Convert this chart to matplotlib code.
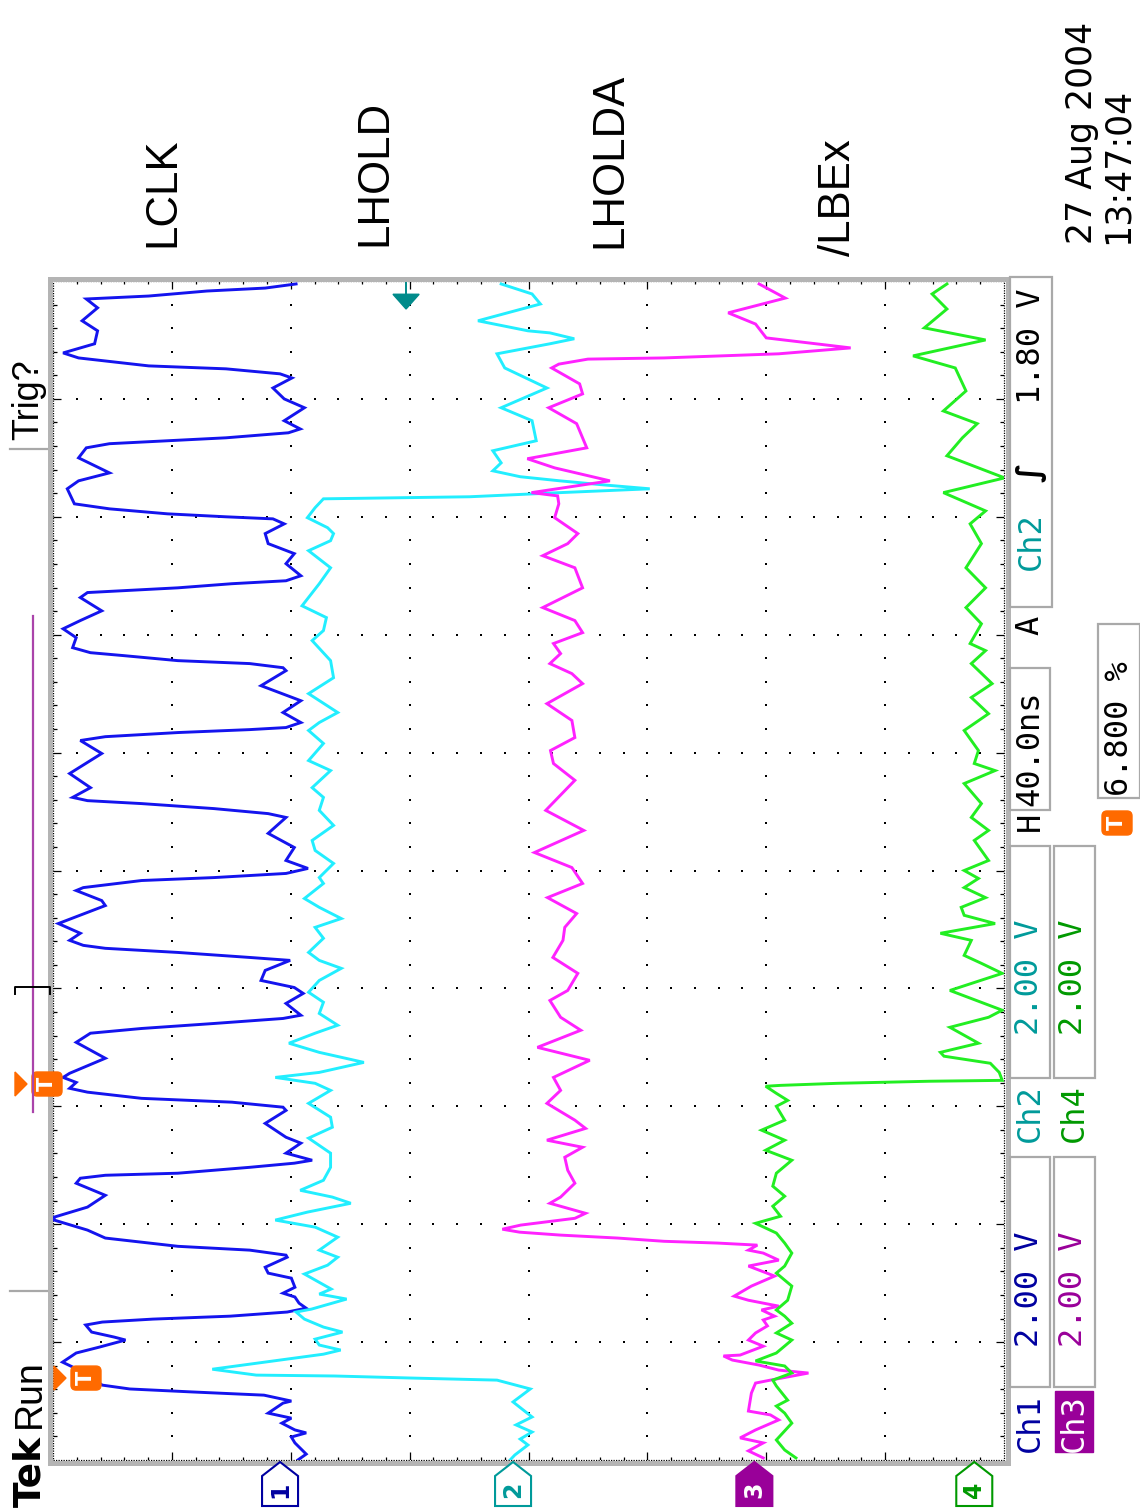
import numpy as np
import matplotlib
matplotlib.use("Agg")
import matplotlib.pyplot as plt
from matplotlib.patches import Rectangle, Polygon, FancyBboxPatch
from matplotlib.collections import LineCollection

# ---- scope settings ----
TIME_PER_DIV = 40.0          # ns
VOLTS_PER_DIV = 2.0
CH_NAMES = ["LCLK", "LHOLD", "LHOLDA", "/LBEx"]
CH_OFFSET = [2.09, 0.13, -1.90, -3.75]      # ground marker position, divisions
CH_COLORS = ["#1414ee", "#22eeff", "#ff22ff", "#22ee22"]
CH_DARK = ["#0000a0", "#009a9a", "#990099", "#009900"]
TRIG_LEVEL = 1.80            # V on Ch2
TRIG_TIME = 27.8             # ns from left edge
RECORD_POS = "6.800 %"

# ---- traces: (time ns, volts) ----
CH1 = [(0.0, -0.30), (2.0, -0.44), (5.8, -0.25), (7.8, -0.19), (9.2, -0.44), (10.2, -0.25),
       (12.5, -0.03), (14.2, -0.19), (15.9, 0.20), (19.3, -0.05), (20.0, -0.19), (22.0, 0.27),
       (23.1, 1.49), (24.1, 2.53), (25.4, 2.99), (30.5, 3.38), (33.2, 3.66), (36.3, 3.43),
       (38.3, 3.04), (40.7, 2.60), (41.7, 2.79), (43.4, 3.17), (45.8, 3.27), (46.8, 2.99),
       (47.8, 2.14), (48.8, 0.84), (50.2, -0.12), (51.5, -0.44), (53.2, -0.32), (55.3, -0.25),
       (56.6, -0.05), (58.6, -0.25), (61.7, -0.19), (63.4, 0.20), (65.4, 0.25), (68.8, -0.12),
       (69.5, -0.10), (71.2, 0.51), (72.5, 1.72), (75.3, 2.94), (78.0, 3.24), (81.4, 3.80),
       (82.4, 3.80), (85.8, 3.24), (89.8, 2.94), (93.9, 3.43), (95.6, 3.36), (96.6, 2.94),
       (97.3, 1.72), (99.3, 0.51), (100.7, -0.24), (101.7, -0.54), (104.1, -0.10), (107.5, -0.35),
       (109.5, -0.10), (114.2, 0.25), (118.6, -0.10), (119.7, -0.05), (121.4, 0.81), (122.7, 2.33),
       (124.8, 3.24), (126.1, 3.54), (128.1, 3.43), (129.8, 3.65), (131.2, 3.54), (136.3, 2.94),
       (141.7, 3.43), (144.8, 3.19), (146.4, 2.33), (148.1, 1.11), (149.8, -0.05), (150.9, -0.35),
       (154.9, -0.10), (158.3, -0.39), (160.3, -0.24), (162.7, 0.32), (166.1, 0.25), (169.5, -0.17),
       (170.5, 0.51), (172.2, 1.72), (173.6, 2.94), (174.6, 3.31), (176.3, 3.54), (178.7, 3.36),
       (182.0, 3.73), (188.1, 2.94), (189.8, 3.00), (193.2, 3.43), (194.2, 3.31), (196.6, 2.33),
       (197.6, 1.11), (199.0, -0.10), (200.7, -0.47), (203.4, -0.10), (207.8, -0.24), (212.6, 0.20),
       (218.0, -0.10), (219.3, 0.20), (221.0, 1.11), (222.7, 2.33), (223.7, 3.24), (224.8, 3.49),
       (228.1, 3.19), (232.9, 3.54), (239.7, 3.00), (244.1, 3.36), (245.4, 2.94), (246.8, 1.72),
       (247.8, 0.51), (248.5, -0.10), (250.2, -0.35), (253.6, -0.05), (257.6, -0.35), (262.7, 0.32),
       (267.8, -0.10), (268.8, -0.05), (270.2, 0.51), (271.2, 1.72), (272.9, 2.63), (273.9, 3.19),
       (275.6, 3.49), (279.0, 3.43), (282.0, 3.65), (284.8, 3.36), (288.1, 3.00), (292.6, 3.36),
       (294.3, 3.24), (295.9, 1.72), (297.3, 0.81), (298.3, -0.10), (300.0, -0.35), (304.1, -0.10),
       (307.5, -0.24), (310.9, 0.20), (314.3, 0.25), (317.6, -0.07), (319.3, 0.12), (320.0, 0.91),
       (321.0, 1.89), (322.7, 2.87), (324.4, 3.46), (329.5, 3.58), (332.2, 3.39), (334.9, 2.87),
       (340.0, 3.39), (343.4, 3.26), (344.8, 2.87), (345.8, 1.89), (346.8, 0.91), (348.5, -0.14),
       (349.8, -0.34), (352.6, -0.07), (357.0, -0.41), (360.0, -0.07), (363.7, 0.12), (367.1, -0.20),
       (368.5, 0.00), (370.2, 0.91), (371.2, 2.21), (373.9, 3.39), (375.6, 3.65), (378.7, 3.12),
       (383.1, 3.07), (386.5, 3.33), (390.9, 3.07), (393.9, 3.26), (394.9, 2.21), (396.6, 1.23),
       (397.6, 0.25), (399.0, -0.27)]

CH2 = [(0.0, 0.05), (1.7, -0.03), (5.1, -0.25), (7.1, -0.12), (9.5, -0.32), (11.9, -0.05),
       (14.6, -0.32), (19.7, 0.00), (24.1, -0.29), (27.1, 0.27), (27.8, 1.70), (28.5, 3.00),
       (28.8, 4.32), (30.8, 5.06), (33.2, 4.18), (35.9, 3.19), (37.3, 2.90), (39.0, 3.26),
       (41.0, 3.33), (43.4, 2.87), (45.1, 3.19), (47.8, 3.51), (50.2, 3.65), (51.2, 3.39),
       (54.6, 2.80), (56.3, 3.26), (58.0, 3.06), (63.1, 3.51), (66.1, 3.12), (68.8, 2.95),
       (71.2, 3.26), (75.6, 2.95), (79.0, 3.33), (81.4, 4.00), (84.1, 3.46), (87.1, 2.73),
       (89.2, 3.04), (91.5, 3.58), (94.9, 3.19), (99.3, 3.07), (104.1, 3.07), (109.2, 3.44),
       (112.9, 3.04), (116.3, 3.07), (121.0, 3.44), (125.4, 3.07), (127.8, 3.33), (129.8, 4.00),
       (131.5, 3.26), (134.9, 2.51), (138.3, 3.26), (141.4, 3.77), (144.8, 3.33), (147.5, 2.95),
       (151.5, 3.26), (155.3, 3.19), (158.7, 3.44), (162.7, 3.26), (166.8, 2.89), (169.5, 3.26),
       (172.2, 3.44), (177.0, 3.19), (180.7, 3.33), (183.7, 2.89), (187.5, 3.26), (190.5, 3.51),
       (195.6, 3.19), (197.6, 3.26), (202.4, 3.02), (206.8, 3.33), (210.2, 3.38), (215.3, 3.02),
       (220.4, 3.26), (224.8, 3.19), (228.1, 3.38), (233.9, 3.07), (237.3, 3.44), (243.1, 3.19),
       (247.5, 3.44), (250.2, 3.26), (253.6, 2.95), (260.0, 3.44), (265.4, 3.02), (271.2, 3.07),
       (278.0, 3.38), (281.4, 3.19), (285.8, 3.14), (289.8, 3.55), (297.3, 3.26), (302.7, 3.07),
       (308.5, 3.44), (311.9, 3.07), (314.3, 3.02), (316.3, 3.12), (319.7, 3.46), (323.1, 3.33),
       (326.1, 3.19), (326.8, 0.73), (328.2, -0.79), (329.5, -2.30), (330.9, -1.48), (332.2, -0.79),
       (333.6, -0.12), (335.6, 0.34), (338.3, 0.20), (342.4, 0.34), (345.8, -0.39), (352.6, -0.32),
       (357.0, 0.20), (363.7, -0.57), (370.5, 0.14), (375.3, 0.27), (378.7, -0.62), (380.4, -1.03),
       (382.4, -0.62), (383.1, -0.25), (386.5, 0.59), (392.2, -0.46), (395.6, -0.32), (399.0, 0.20)]

CH3 = [(0.7, -0.15), (3.1, 0.10), (5.8, -0.15), (7.5, 0.24), (10.2, -0.02), (13.6, -0.41),
       (15.3, -0.27), (16.6, 0.10), (22.7, 0.05), (26.1, -0.02), (27.1, -0.27), (29.5, -0.91),
       (30.5, -0.41), (32.2, -0.08), (33.9, 0.37), (35.3, 0.52), (35.6, 0.24), (38.6, -0.15),
       (40.7, 0.10), (43.1, -0.02), (45.5, -0.22), (47.5, -0.15), (48.8, -0.34), (50.9, -0.12),
       (52.2, -0.41), (54.2, 0.10), (55.6, 0.34), (59.0, 0.05), (62.4, -0.34), (65.8, 0.10),
       (67.8, -0.41), (70.2, -0.15), (71.2, 0.10), (72.9, -0.05), (73.6, 0.62), (74.2, 1.52),
       (75.3, 2.30), (76.3, 3.26), (77.3, 3.95), (78.3, 4.24), (79.7, 3.93), (82.0, 3.02),
       (83.7, 2.84), (87.1, 3.44), (89.2, 3.26), (93.9, 3.02), (98.3, 3.14), (102.7, 3.19),
       (106.1, 2.89), (108.5, 3.49), (112.5, 2.84), (115.3, 3.02), (121.0, 3.49), (125.4, 3.26),
       (129.8, 3.38), (135.6, 2.77), (140.0, 3.65), (145.8, 2.92), (150.2, 3.26), (155.9, 3.44),
       (159.3, 3.14), (165.1, 2.97), (170.5, 3.39), (176.3, 3.22), (180.7, 3.19), (185.4, 2.99),
       (190.8, 3.48), (195.6, 2.89), (201.0, 3.07), (206.1, 3.70), (213.6, 2.87), (220.4, 3.51),
       (230.6, 3.02), (236.3, 3.38), (240.7, 3.43), (245.1, 3.02), (250.9, 3.07), (256.6, 3.49),
       (263.4, 2.89), (266.8, 3.07), (270.2, 3.44), (273.6, 3.26), (277.0, 3.38), (280.7, 2.89),
       (284.8, 3.02), (289.2, 3.56), (295.9, 2.89), (302.7, 3.02), (306.8, 3.56), (310.9, 3.14),
       (314.3, 2.97), (319.7, 3.36), (324.4, 3.29), (327.1, 3.31), (328.2, 3.75), (332.2, 2.43),
       (336.6, 3.36), (339.7, 3.82), (343.4, 2.82), (351.6, 2.99), (357.0, 3.46), (361.7, 2.89),
       (365.1, 2.94), (370.5, 3.41), (371.8, 3.29), (373.5, 2.80), (373.9, 1.52), (375.3, -0.41),
       (377.3, -1.62), (380.7, -0.20), (385.4, -0.02), (389.2, 0.44), (394.2, -0.52), (399.0, -0.08)]

CH4 = [(0.7, 3.00), (3.4, 3.19), (6.8, 3.33), (12.5, 3.07), (15.9, 3.19), (18.3, 3.33),
       (20.3, 3.14), (25.1, 3.33), (27.1, 3.39), (29.5, 3.07), (31.9, 3.19), (33.6, 3.68),
       (36.3, 3.33), (40.7, 3.07), (43.1, 3.33), (46.4, 3.07), (48.8, 3.19), (50.9, 3.33),
       (54.2, 3.14), (59.0, 3.07), (63.4, 3.33), (65.8, 3.19), (70.2, 3.07), (73.6, 3.19),
       (77.0, 3.33), (80.3, 3.68), (82.7, 3.26), (86.1, 3.39), (89.5, 3.19), (92.9, 3.39),
       (97.3, 3.33), (101.7, 3.07), (105.1, 3.51), (108.5, 3.19), (111.9, 3.58), (115.3, 3.19),
       (120.0, 3.33), (122.0, 3.14), (124.4, 3.33), (126.8, 3.51), (127.1, 3.26), (127.8, 2.30),
       (128.5, 0.76), (128.8, -0.47), (131.5, -0.42), (134.6, -0.27), (137.0, 0.51), (138.3, 0.57),
       (141.4, -0.07), (146.8, 0.41), (150.2, -0.24), (152.6, -0.47), (159.3, 0.41), (165.1, -0.47),
       (168.5, -0.12), (171.2, 0.17), (176.3, 0.05), (178.7, 0.57), (182.0, -0.35), (184.8, 0.17),
       (187.5, 0.22), (190.8, -0.19), (194.2, 0.17), (197.3, -0.07), (200.0, 0.17), (203.4, -0.24),
       (210.2, 0.00), (213.6, -0.24), (218.0, 0.05), (222.7, -0.12), (229.5, 0.17), (233.9, -0.35),
       (236.3, 0.00), (240.7, -0.07), (247.5, 0.17), (253.2, -0.24), (258.7, 0.05), (263.4, -0.30),
       (270.2, 0.05), (274.6, -0.19), (277.0, 0.07), (283.7, -0.12), (289.2, 0.14), (295.9, -0.19),
       (302.7, 0.14), (310.9, -0.12), (317.6, 0.07), (322.0, -0.19), (328.2, 0.52), (333.2, -0.51),
       (340.7, 0.46), (346.8, 0.20), (351.6, -0.05), (355.9, 0.52), (362.7, 0.14), (370.5, 0.32),
       (374.6, 1.03), (380.0, -0.19), (384.1, 0.84), (390.5, 0.46), (395.6, 0.71), (399.0, 0.46)]

TRACES = [CH1, CH2, CH3, CH4]

# ---- layout (pixels of the 1140x1512 screenshot) ----
W, H = 1140, 1512
GX0, GX1, GY0, GY1 = 53, 1004, 281, 1460   # graticule


def tpx(t):
    return GY1 - t * (GY1 - GY0) / (10 * TIME_PER_DIV)


def dpx(d):
    return (GX0 + GX1) / 2 - d * (GX1 - GX0) / 8


fig = plt.figure(figsize=(W / 100, H / 100), dpi=100)
fig.patch.set_facecolor("white")

# screen rotated 90 deg: time runs bottom -> top, voltage grows to the left
ax = fig.add_axes([GX0 / W, 1 - GY1 / H, (GX1 - GX0) / W, (GY1 - GY0) / H], zorder=2)
ax.set_xlim(4, -4)
ax.set_ylim(0, 10 * TIME_PER_DIV)
ax.axis("off")

ov = fig.add_axes([0, 0, 1, 1], zorder=3)
ov.set_xlim(0, W)
ov.set_ylim(H, 0)
ov.axis("off")

# graticule dots
sub_t = np.arange(8, 400, 8)
sub_x = np.linspace(-3.8, 3.8, 39)
vx, vt = np.meshgrid(np.arange(-3, 4), sub_t)
ax.scatter(vx.ravel(), vt.ravel(), s=2.6, marker="s", color="black", linewidths=0, zorder=1)
hx, ht = np.meshgrid(sub_x, np.arange(40, 400, 40))
ax.scatter(hx.ravel(), ht.ravel(), s=2.6, marker="s", color="black", linewidths=0, zorder=1)

# frame ticks
segs = []
for x in sub_x:
    L = 2.6 if abs(x - round(x)) < 1e-6 else 1.1
    segs.append([(x, 0), (x, L)])
    segs.append([(x, 400), (x, 400 - L)])
for t in sub_t:
    L = 0.07 if t % 40 == 0 else 0.03
    segs.append([(4, t), (4 - L, t)])
    segs.append([(-4, t), (-4 + L, t)])
ax.add_collection(LineCollection(segs, colors="black", linewidths=0.9, zorder=1))
ax.add_patch(Rectangle((0, 0), 1, 1, transform=ax.transAxes, fill=False, ec="black",
                       lw=0.9, ls=(0, (1, 1)), clip_on=False, zorder=1))

# traces
for pts, off, col in zip(TRACES, CH_OFFSET, CH_COLORS):
    t = np.array([p[0] for p in pts])
    v = np.array([p[1] for p in pts])
    ax.plot(off + v / VOLTS_PER_DIV, t, color=col, lw=2.1, zorder=3, solid_joinstyle="miter")

# trigger level arrow (Ch2)
tl = CH_OFFSET[1] + TRIG_LEVEL / VOLTS_PER_DIV
ax.plot([tl, tl], [400, 395.5], color="#008b8b", lw=1.4, clip_on=False, zorder=4)
ax.add_patch(Polygon([(tl - 0.11, 395.5), (tl + 0.11, 395.5), (tl, 390.5)], closed=True,
                     fc="#008b8b", ec="#008b8b", clip_on=False, zorder=4))

# outer frame
ov.add_patch(Rectangle((49.5, 278.5), 958, 1184.5, fill=False, ec="#b4b4b4", lw=3.6))
ov.plot([10, 47], [449, 449], color="#a8a8a8", lw=1.6)
ov.plot([10, 47], [1291, 1291], color="#a8a8a8", lw=1.6)


def vtext(x, y, s, size, color="black", family="Liberation Sans", weight="normal", **kw):
    ov.text(x, y, s, rotation=90, rotation_mode="anchor", ha="left", va="center",
            fontsize=size, color=color, family=family, fontweight=weight, **kw)


def t_icon(x0, yc, tri=True):
    if tri:
        ov.add_patch(Polygon([(x0, yc - 12), (x0, yc + 12), (x0 + 12, yc)], closed=True,
                             fc="#ff6a00", ec="#ff6a00"))
        x0 += 17
    ov.add_patch(FancyBboxPatch((x0, yc - 12), 30, 24, boxstyle="round,pad=0,rounding_size=5",
                                fc="#ff6a00", ec="#ff6a00"))
    ov.text(x0 + 15, yc, "T", rotation=90, ha="center", va="center", fontsize=15,
            color="white", family="DejaVu Sans", fontweight="bold")


# channel names above the graticule
for name, xc, y0 in zip(CH_NAMES, [163, 375, 610, 838], [247, 246, 248, 256]):
    vtext(xc, y0, name, 31.5)

# date / time
vtext(1082, 244, "27 Aug 2004", 25, family="DejaVu Sans")
vtext(1118, 244, "13:47:04", 25, family="DejaVu Sans")

# status text on the left
vtext(30, 1507, "Tek", 27, weight="bold", family="DejaVu Sans")
vtext(30, 1428, "Run", 27)
vtext(29, 440, "Trig?", 26)

# record view bar
ov.plot([33, 33], [616, 1112], color="#aa44aa", lw=1.6)
ov.plot([15, 15, 50, 50], [994, 987, 987, 994], color="black", lw=1.4)
t_icon(15, 1084)

# trigger position marker on the graticule edge
t_icon(GX0 + 1, tpx(TRIG_TIME))

# ground markers
for i, (off, col) in enumerate(zip(CH_OFFSET, CH_DARK)):
    cx = dpx(off)
    shape = [(cx, 1462), (cx + 18, 1476), (cx + 18, 1506), (cx - 18, 1506), (cx - 18, 1476)]
    filled = i == 2
    ov.add_patch(Polygon(shape, closed=True, fc=col if filled else "white", ec=col, lw=1.5))
    ov.text(cx, 1490, str(i + 1), rotation=90, ha="center", va="center", fontsize=17,
            color="white" if filled else col, family="DejaVu Sans", fontweight="bold")

# readout boxes
BOX_EC = "#a9a9a9"
for (x0, y0, x1, y1) in [(1010, 1157, 1050, 1387), (1010, 846, 1050, 1078), (1010, 668, 1050, 810),
                         (1010, 277, 1052, 607), (1054, 1157, 1095, 1387), (1054, 846, 1095, 1078),
                         (1098, 624, 1140, 798)]:
    ov.add_patch(Rectangle((x0, y0), x1 - x0, y1 - y0, fc="white", ec=BOX_EC, lw=1.6))
ov.add_patch(Rectangle((1055, 1391), 38, 61, fc="#990099", ec="#990099"))

MONO = "DejaVu Sans Mono"
vtext(1030, 1452, "Ch1", 23, CH_DARK[0], MONO)
vtext(1030, 1347, "2.00 V", 23, CH_DARK[0], MONO)
vtext(1030, 1142, "Ch2", 23, CH_DARK[1], MONO)
vtext(1030, 1035, "2.00 V", 23, CH_DARK[1], MONO)
vtext(1074, 1452, "Ch3", 23, "white", MONO)
vtext(1074, 1347, "2.00 V", 23, CH_DARK[2], MONO)
vtext(1074, 1142, "Ch4", 23, CH_DARK[3], MONO)
vtext(1074, 1035, "2.00 V", 23, CH_DARK[3], MONO)
vtext(1030, 831, "H", 23, "black", MONO)
vtext(1030, 806, "40.0ns", 23, "black", MONO)
vtext(1030, 635, "A", 23, "black", MONO)
vtext(1031, 570, "Ch2", 23, CH_DARK[1], MONO)
vtext(1031, 482, "\u222b", 23, "black", "DejaVu Sans", weight="bold")
vtext(1031, 404, "1.80 V", 23, "black", MONO)
vtext(1119, 796, RECORD_POS, 23, "black", MONO)
t_icon(1102, 823, tri=False)

fig.savefig("out.png", dpi=100, facecolor="white")
